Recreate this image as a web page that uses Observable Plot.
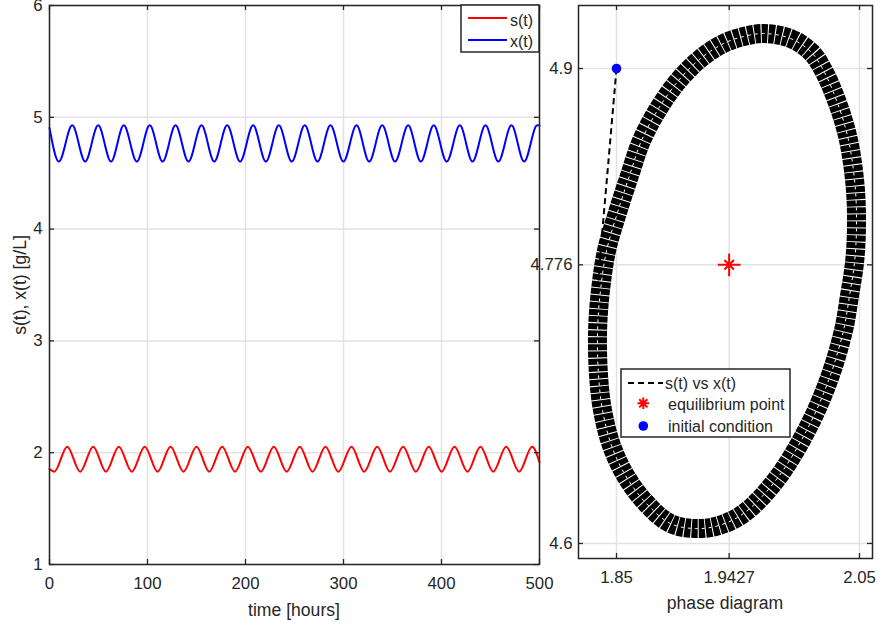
<!DOCTYPE html>
<html><head><meta charset="utf-8">
<script src="https://cdn.jsdelivr.net/npm/d3@7"></script>
<script src="https://cdn.jsdelivr.net/npm/@observablehq/plot@0.6"></script>
<style>
body{margin:0;background:#fff;}
#wrap{position:relative;width:878px;height:632px;font-family:"Liberation Sans",Arial,sans-serif;color:#262626;overflow:hidden;background:#fff}
#wrap svg{overflow:visible;}
.panel{position:absolute;top:0}
.lab{position:absolute;transform:translate(-50%,-50%);white-space:nowrap;font-size:17.6px;color:#262626}
.leg{position:absolute;overflow:visible}
</style></head>
<body>
<div id="wrap"></div>
<script>
// ---- time series: extrema (time [h], value [g/L]) ----
const sTime = [0, 4.9, 18.1, 31.3, 44.6, 57.6, 70.7, 84.0, 97.2, 110.3, 123.5, 136.7, 150.0, 163.0, 176.2, 189.3, 202.4, 215.7, 228.9, 242.0, 255.4, 268.4, 281.6, 294.7, 308.2, 321.1, 334.4, 347.4, 360.9, 373.8, 387.0, 400.1, 413.3, 426.5, 439.8, 452.8, 466.0, 479.2, 492.5, 500];
const sValue = [1.854, 1.830, 2.054, 1.830, 2.054, 1.830, 2.054, 1.830, 2.054, 1.830, 2.054, 1.830, 2.054, 1.830, 2.054, 1.830, 2.054, 1.830, 2.054, 1.830, 2.054, 1.830, 2.054, 1.830, 2.054, 1.830, 2.054, 1.830, 2.054, 1.830, 2.054, 1.830, 2.054, 1.830, 2.054, 1.830, 2.054, 1.830, 2.054, 1.915];
const xTime = [0, 9.5, 23.2, 36.4, 49.7, 62.8, 75.8, 89.1, 102.3, 115.4, 128.6, 141.8, 155.1, 168.1, 181.3, 194.5, 207.8, 220.8, 234.0, 247.2, 260.5, 273.5, 286.7, 299.9, 313.3, 326.2, 339.5, 352.6, 366.0, 378.9, 392.1, 405.3, 418.7, 431.6, 444.9, 458.0, 471.4, 484.3, 497.7, 500];
const xValue = [4.905, 4.604, 4.928, 4.604, 4.928, 4.604, 4.928, 4.604, 4.928, 4.604, 4.928, 4.604, 4.928, 4.604, 4.928, 4.604, 4.928, 4.604, 4.928, 4.604, 4.928, 4.604, 4.928, 4.604, 4.928, 4.604, 4.928, 4.604, 4.928, 4.604, 4.928, 4.604, 4.928, 4.604, 4.928, 4.604, 4.928, 4.604, 4.928, 4.926];

// ---- phase diagram: limit-cycle band centre ----
const loopS = [1.9710, 1.9932, 2.0105, 2.0212, 2.0302, 2.0377, 2.0426, 2.0467, 2.0475, 2.0459, 2.0418, 2.0368, 2.0245, 2.0064, 1.9809, 1.9545, 1.9340, 1.9150, 1.8944, 1.8739, 1.8574, 1.8459, 1.8385, 1.8352, 1.8344, 1.8368, 1.8418, 1.8508, 1.8607, 1.8706, 1.8846, 1.9010, 1.9191, 1.9381, 1.9545];
const loopX = [4.9221, 4.9190, 4.9101, 4.8975, 4.8817, 4.8646, 4.8482, 4.8229, 4.7989, 4.7774, 4.7566, 4.7345, 4.7029, 4.6713, 4.6397, 4.6189, 4.6113, 4.6094, 4.6126, 4.6258, 4.6429, 4.6618, 4.6840, 4.7061, 4.7345, 4.7598, 4.7850, 4.8090, 4.8324, 4.8545, 4.8747, 4.8924, 4.9063, 4.9158, 4.9202];
const transS = [1.8500, 1.8434, 1.8377, 1.8352];
const transX = [4.9000, 4.8419, 4.7913, 4.7661];
const equilS = [1.9427], equilX = [4.776];
const initS = [1.85], initX = [4.9];

// ---- ticks ----
const tTicks = [0, 100, 200, 300, 400, 500];
const yTicks = [1, 2, 3, 4, 5, 6];
const pxTicks = [1.85, 1.9427, 2.05];
const pyTicks = [4.6, 4.776, 4.9];

const sRows = sTime.map((t, i) => ({t, v: sValue[i]}));
const xRows = xTime.map((t, i) => ({t, v: xValue[i]}));
const loopRows = loopS.map((s, i) => ({s, x: loopX[i]}));
const transRows = transS.map((s, i) => ({s, x: transX[i]}));
const equilRows = equilS.map((s, i) => ({s, x: equilX[i]}));
const initRows = initS.map((s, i) => ({s, x: initX[i]}));

const AX = "#262626", GRID = "#e2e2e2";
const style = {fontFamily: '"Liberation Sans", Arial, sans-serif', fontSize: "16.8px", color: AX, background: "none", overflow: "visible"};
const wrap = document.getElementById("wrap");
const fmt = d => String(d);

// Left panel
const LW = 540, LH = 632, LT = 5, LB = 68, LL = 49, LR = 1;
const lIH = LH - LT - LB, lIW = LW - LL - LR;
const left = Plot.plot({
  width: LW, height: LH, marginTop: LT, marginBottom: LB, marginLeft: LL, marginRight: LR,
  style,
  x: {domain: [0, 500]},
  y: {domain: [1, 6]},
  marks: [
    Plot.gridX(tTicks, {stroke: GRID, strokeOpacity: 1, strokeWidth: 1.5}),
    Plot.gridY(yTicks, {stroke: GRID, strokeOpacity: 1, strokeWidth: 1.5}),
    Plot.line(sRows, {x: "t", y: "v", stroke: "#ff0000", strokeWidth: 2, curve: "monotone-x"}),
    Plot.line(xRows, {x: "t", y: "v", stroke: "#0000ff", strokeWidth: 2, curve: "monotone-x"}),
    Plot.ruleX(tTicks, {x: d => d, insetTop: lIH - 5, stroke: AX, strokeWidth: 1.3}),
    Plot.ruleX(tTicks, {x: d => d, insetBottom: lIH - 5, stroke: AX, strokeWidth: 1.3}),
    Plot.ruleY(yTicks, {y: d => d, insetRight: lIW - 5, stroke: AX, strokeWidth: 1.3}),
    Plot.ruleY(yTicks, {y: d => d, insetLeft: lIW - 5, stroke: AX, strokeWidth: 1.3}),
    Plot.frame({stroke: AX, strokeWidth: 1.5}),
    Plot.axisX(tTicks, {tickSize: 0, tickPadding: 13, label: null, fill: AX, tickFormat: fmt}),
    Plot.axisY(yTicks, {tickSize: 0, tickPadding: 7, label: null, fill: AX, tickFormat: fmt})
  ]
});
left.classList.add("panel");
left.style.left = "0px";
wrap.appendChild(left);

// Right panel
const RX = 540, RW = 338, RH = 632, RT = 5, RB = 74, RL = 38, RR = 6;
const rIH = RH - RT - RB, rIW = RW - RL - RR;
const right = Plot.plot({
  width: RW, height: RH, marginTop: RT, marginBottom: RB, marginLeft: RL, marginRight: RR,
  style,
  x: {domain: [1.8187, 2.0607]},
  y: {domain: [4.5905, 4.9398]},
  marks: [
    Plot.gridX(pxTicks, {stroke: GRID, strokeOpacity: 1, strokeWidth: 1.5}),
    Plot.gridY(pyTicks, {stroke: GRID, strokeOpacity: 1, strokeWidth: 1.5}),
    Plot.line(loopRows, {x: "s", y: "x", curve: "catmull-rom-closed", stroke: "#000", strokeWidth: 19, strokeDasharray: "6,1", strokeLinecap: "butt", strokeLinejoin: "miter"}),
    Plot.line(loopRows, {x: "s", y: "x", curve: "catmull-rom-closed", stroke: "#fff", strokeWidth: 1, strokeDasharray: "3,4", strokeLinecap: "butt"}),
    Plot.line(transRows, {x: "s", y: "x", curve: "catmull-rom", stroke: "#000", strokeWidth: 2, strokeDasharray: "6,4", strokeLinecap: "butt"}),
    Plot.dot(equilRows, {x: "s", y: "x", symbol: "plus", r: 7.4, stroke: "#ff0000", strokeWidth: 2}),
    Plot.dot(equilRows, {x: "s", y: "x", symbol: "times", r: 4.4, stroke: "#ff0000", strokeWidth: 2}),
    Plot.dot(initRows, {x: "s", y: "x", r: 4.8, fill: "#0000ff", stroke: "none"}),
    Plot.ruleX(pxTicks, {x: d => d, insetTop: rIH - 5, stroke: AX, strokeWidth: 1.3}),
    Plot.ruleX(pxTicks, {x: d => d, insetBottom: rIH - 5, stroke: AX, strokeWidth: 1.3}),
    Plot.ruleY(pyTicks, {y: d => d, insetRight: rIW - 5, stroke: AX, strokeWidth: 1.3}),
    Plot.ruleY(pyTicks, {y: d => d, insetLeft: rIW - 5, stroke: AX, strokeWidth: 1.3}),
    Plot.frame({stroke: AX, strokeWidth: 1.5}),
    Plot.axisX(pxTicks, {tickSize: 0, tickPadding: 13, label: null, fill: AX, tickFormat: fmt}),
    Plot.axisY(pyTicks, {tickSize: 0, tickPadding: 6, label: null, fill: AX, tickFormat: fmt})
  ]
});
right.classList.add("panel");
right.style.left = RX + "px";
wrap.appendChild(right);

// Axis labels
function label(text, x, y, rot) {
  const d = document.createElement("div");
  d.className = "lab";
  d.textContent = text;
  d.style.left = x + "px"; d.style.top = y + "px";
  if (rot) d.style.transform = "translate(-50%,-50%) rotate(-90deg)";
  wrap.appendChild(d);
}
label("time [hours]", 294, 610);
label("s(t), x(t) [g/L]", 20, 285, true);
label("phase diagram", 725, 603);

// Legends (HTML-side SVG overlays)
const NS = "http://www.w3.org/2000/svg";
function el(tag, attrs, parent) {
  const e = document.createElementNS(NS, tag);
  for (const k in attrs) e.setAttribute(k, attrs[k]);
  parent.appendChild(e);
  return e;
}
function txt(parent, x, y, s) {
  const t = el("text", {x, y, "font-family": '"Liberation Sans", Arial, sans-serif', "font-size": 16, fill: AX, "dominant-baseline": "central"}, parent);
  t.textContent = s;
}
// left legend
const lg = el("svg", {width: 80, height: 50, class: "leg"}, wrap);
lg.style.left = "460px"; lg.style.top = "4px";
el("rect", {x: 1, y: 1, width: 78, height: 47, fill: "#fff", stroke: AX, "stroke-width": 1.5}, lg);
el("line", {x1: 8, x2: 47, y1: 14, y2: 14, stroke: "#ff0000", "stroke-width": 2}, lg);
txt(lg, 50, 16, "s(t)");
el("line", {x1: 8, x2: 47, y1: 36, y2: 36, stroke: "#0000ff", "stroke-width": 2}, lg);
txt(lg, 50, 37.5, "x(t)");
// right legend
const rg = el("svg", {width: 172, height: 70, class: "leg"}, wrap);
rg.style.left = "620px"; rg.style.top = "368px";
el("rect", {x: 1, y: 1, width: 169, height: 68, fill: "#fff", stroke: AX, "stroke-width": 1.5}, rg);
el("line", {x1: 8, x2: 43, y1: 15, y2: 15, stroke: "#000", "stroke-width": 2, "stroke-dasharray": "6,4"}, rg);
txt(rg, 45, 15.5, "s(t) vs x(t)");
const sx = 23.3, sy = 35.3;
el("path", {d: `M${sx-5.8},${sy}H${sx+5.8}M${sx},${sy-5.8}V${sy+5.8}M${sx-4.1},${sy-4.1}L${sx+4.1},${sy+4.1}M${sx-4.1},${sy+4.1}L${sx+4.1},${sy-4.1}`, stroke: "#ff0000", "stroke-width": 2, fill: "none"}, rg);
txt(rg, 48, 36, "equilibrium point");
el("circle", {cx: 23.3, cy: 58, r: 4.8, fill: "#0000ff"}, rg);
txt(rg, 48, 58, "initial condition");
</script>
</body></html>
